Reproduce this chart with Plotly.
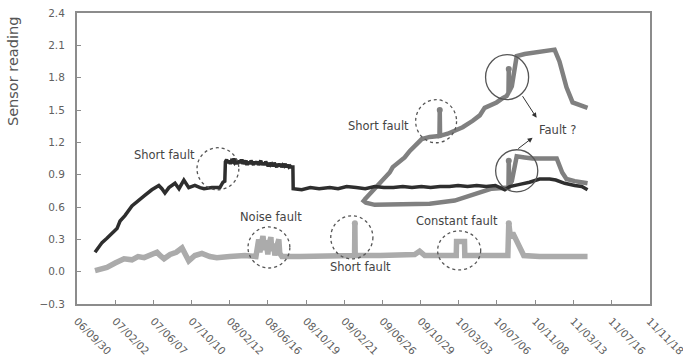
import plotly.graph_objects as go

# ---------------- data ----------------
# dark sensor: ramp, high (noisy) plateau, flat part
dark_ramp_dates = ["2006-11-28","2006-12-08","2006-12-21","2007-01-06","2007-01-23","2007-02-08","2007-02-18",
                   "2007-03-06","2007-03-29","2007-04-18","2007-05-11","2007-06-02","2007-06-25","2007-07-05",
                   "2007-07-15","2007-07-28","2007-08-17","2007-08-30","2007-09-15","2007-10-01","2007-10-21",
                   "2007-11-07","2007-11-20","2007-12-16","2008-01-11","2008-01-21","2008-01-27"]
dark_ramp_vals = [0.18,0.22,0.27,0.31,0.36,0.40,0.47,
                  0.52,0.61,0.66,0.71,0.76,0.80,0.77,
                  0.73,0.78,0.82,0.77,0.85,0.78,0.80,
                  0.78,0.77,0.78,0.78,0.83,0.84]
dark_high_dates = ["2008-01-29","2008-02-02","2008-02-06","2008-02-10","2008-02-14","2008-02-18","2008-02-22",
                   "2008-02-26","2008-03-01","2008-03-05","2008-03-09","2008-03-13","2008-03-17","2008-03-21",
                   "2008-03-25","2008-03-29","2008-04-02","2008-04-06","2008-04-10","2008-04-14","2008-04-18",
                   "2008-04-22","2008-04-26","2008-04-30","2008-05-04","2008-05-08","2008-05-12","2008-05-16",
                   "2008-05-20","2008-05-24","2008-05-28","2008-06-01","2008-06-05","2008-06-09","2008-06-13",
                   "2008-06-17","2008-06-21","2008-06-25","2008-06-29","2008-07-03","2008-07-07","2008-07-11",
                   "2008-07-15","2008-07-19","2008-07-23","2008-07-27","2008-07-31","2008-08-04","2008-08-08",
                   "2008-08-12","2008-08-16","2008-08-20","2008-08-24","2008-08-28","2008-09-01","2008-09-06"]
dark_high_vals = [1.02,1.04,1.01,1.03,1.00,1.03,1.02,
                  1.05,1.01,1.02,1.00,1.03,1.01,1.04,
                  1.00,1.02,1.01,1.03,0.99,1.02,1.00,
                  1.03,1.01,0.99,1.02,1.00,1.02,0.99,
                  1.01,1.03,0.99,1.01,0.99,1.02,1.00,
                  0.98,1.01,0.99,1.00,0.98,1.01,0.99,
                  0.97,1.00,0.98,1.00,0.97,0.99,0.98,
                  1.00,0.97,0.99,0.97,0.98,0.97,0.97]
dark_flat_dates = ["2008-09-07","2008-10-05","2008-11-02","2008-12-01","2009-01-05","2009-02-01","2009-03-01",
                   "2009-04-01","2009-05-01","2009-06-01","2009-07-01","2009-08-01","2009-09-01","2009-10-01",
                   "2009-11-01","2009-12-01","2010-01-01","2010-02-01","2010-03-01","2010-04-01","2010-05-01",
                   "2010-06-01","2010-07-01","2010-08-01","2010-08-17","2010-09-19","2010-10-21","2010-11-23",
                   "2010-12-26","2011-01-15","2011-02-13","2011-03-18","2011-04-10","2011-04-29"]
dark_flat_vals = [0.77,0.76,0.78,0.77,0.78,0.77,0.79,
                  0.78,0.77,0.79,0.78,0.78,0.79,0.78,
                  0.79,0.78,0.79,0.79,0.80,0.79,0.80,
                  0.79,0.80,0.76,0.79,0.81,0.83,0.86,
                  0.86,0.85,0.82,0.80,0.79,0.76]

medA_dates = ["2009-04-29","2009-05-22","2009-06-17","2009-07-07","2009-07-20","2009-07-30","2009-08-22",
              "2009-09-07","2009-09-24","2009-10-13","2009-11-02","2009-11-28","2009-12-30","2009-12-31",
              "2010-01-01","2010-01-26","2010-02-18","2010-03-16","2010-04-18","2010-05-11","2010-05-27",
              "2010-06-12","2010-07-05","2010-07-25","2010-08-07","2010-08-13","2010-08-14","2010-08-15",
              "2010-08-24","2010-09-09","2010-10-05","2010-10-31","2010-12-09","2011-01-11","2011-01-27",
              "2011-02-19","2011-03-11","2011-04-03","2011-04-29"]
medA_vals = [0.67,0.74,0.82,0.87,0.92,0.97,1.03,
             1.06,1.12,1.18,1.23,1.25,1.26,1.50,
             1.26,1.28,1.31,1.34,1.40,1.45,1.52,
             1.54,1.57,1.61,1.63,1.66,1.88,1.67,
             1.72,2.00,2.02,2.03,2.05,2.06,1.95,
             1.71,1.57,1.55,1.52]

medB_dates = ["2009-04-20","2009-05-03","2009-06-01","2009-08-22","2009-11-28","2010-02-18","2010-04-08",
              "2010-05-17","2010-06-19","2010-08-01","2010-08-13","2010-08-14","2010-08-15","2010-08-24",
              "2010-09-09","2010-10-05","2010-10-31","2010-12-09","2011-01-18","2011-02-05","2011-02-19",
              "2011-03-18","2011-04-29"]
medB_vals = [0.67,0.64,0.62,0.62,0.63,0.66,0.70,
             0.74,0.77,0.78,0.78,1.03,0.80,0.84,
             1.07,1.06,1.05,1.05,1.05,0.92,0.86,
             0.84,0.82]

light_dates = ["2006-11-28","2006-12-15","2007-01-06","2007-02-02","2007-03-03","2007-03-29","2007-04-18",
               "2007-05-08","2007-05-28","2007-06-19","2007-06-29","2007-07-12","2007-08-01","2007-08-21",
               "2007-09-09","2007-09-22","2007-10-01","2007-10-21","2007-11-13","2007-12-09","2008-01-01",
               "2008-02-12","2008-04-02","2008-05-08",
               "2008-05-11","2008-05-17","2008-05-21","2008-05-27","2008-05-31","2008-06-06","2008-06-10",
               "2008-06-16","2008-06-19","2008-06-26","2008-06-29","2008-07-05","2008-07-09","2008-07-15",
               "2008-07-22","2008-07-25","2008-08-01",
               "2008-09-29","2009-01-05","2009-03-27","2009-03-28","2009-03-29","2009-06-19","2009-08-22",
               "2009-10-10","2009-10-26","2009-11-12","2009-12-31","2010-02-18","2010-02-23","2010-02-24",
               "2010-03-22","2010-03-23","2010-05-11","2010-07-15","2010-08-11","2010-08-14","2010-08-20",
               "2010-08-27","2010-09-06","2010-09-19","2010-10-02","2010-11-23","2011-01-27","2011-03-18",
               "2011-04-29"]
light_vals = [0.01,0.02,0.04,0.08,0.12,0.11,0.14,
              0.13,0.15,0.18,0.15,0.12,0.16,0.18,
              0.22,0.15,0.10,0.15,0.17,0.14,0.13,
              0.14,0.15,0.14,
              0.22,0.30,0.18,0.27,0.33,0.20,0.29,
              0.16,0.25,0.32,0.19,0.26,0.15,0.23,
              0.30,0.17,0.14,
              0.14,0.15,0.15,0.45,0.15,0.15,0.16,
              0.16,0.19,0.15,0.15,0.16,0.15,0.28,
              0.28,0.15,0.15,0.15,0.15,0.45,0.31,
              0.36,0.30,0.20,0.15,0.14,0.14,0.14,
              0.14]

# fault spike indices (tops marked with dots)
medA_fault_idx = [13, 26]
medB_fault_idx = [11]
light_fault_idx = [44, 60]

tick_dates = ["2006-09-30","2007-02-02","2007-06-07","2007-10-10","2008-02-12","2008-06-16","2008-10-19",
              "2009-02-21","2009-06-26","2009-10-29","2010-03-03","2010-07-06","2010-11-08","2011-03-13",
              "2011-07-16","2011-11-18"]
tick_labels = ["06/09/30","07/02/02","07/06/07","07/10/10","08/02/12","08/06/16","08/10/19",
               "09/02/21","09/06/26","09/10/29","10/03/03","10/07/06","10/11/08","11/03/13",
               "11/07/16","11/11/18"]

# ---------------- figure ----------------
C_DARK = "#2e2e2e"
C_MED = "#808080"
C_LIGHT = "#ababab"

dark_dates = dark_ramp_dates + dark_high_dates + dark_flat_dates
dark_vals = dark_ramp_vals + dark_high_vals + dark_flat_vals

fig = go.Figure()
fig.add_trace(go.Scatter(x=light_dates, y=light_vals, mode="lines",
                         line=dict(color=C_LIGHT, width=5.5), showlegend=False))
fig.add_trace(go.Scatter(x=medB_dates, y=medB_vals, mode="lines",
                         line=dict(color=C_MED, width=4.5), showlegend=False))
fig.add_trace(go.Scatter(x=medA_dates, y=medA_vals, mode="lines",
                         line=dict(color=C_MED, width=4.5), showlegend=False))
fig.add_trace(go.Scatter(x=dark_dates, y=dark_vals, mode="lines",
                         line=dict(color=C_DARK, width=3.5), showlegend=False))

fig.add_trace(go.Scatter(x=[light_dates[i] for i in light_fault_idx],
                         y=[light_vals[i] for i in light_fault_idx], mode="markers",
                         marker=dict(color=C_LIGHT, size=6), showlegend=False))
fig.add_trace(go.Scatter(x=[medA_dates[i] for i in medA_fault_idx] + [medB_dates[i] for i in medB_fault_idx],
                         y=[medA_vals[i] for i in medA_fault_idx] + [medB_vals[i] for i in medB_fault_idx],
                         mode="markers", marker=dict(color=C_MED, size=6), showlegend=False))

# circles around faults
dotted = dict(color="#555555", width=1.3, dash="dot")
solid = dict(color="#555555", width=1.3)
circles = [
    ("2007-10-28", "2008-03-13", 0.76, 1.15, dotted),
    ("2008-04-12", "2008-08-27", 0.034, 0.415, dotted),
    ("2009-01-08", "2009-05-26", 0.118, 0.518, dotted),
    ("2009-12-24", "2010-05-14", 0.016, 0.378, dotted),
    ("2009-10-13", "2010-02-24", 1.196, 1.596, dotted),
    ("2010-05-30", "2010-10-18", 1.596, 2.014, solid),
    ("2010-07-02", "2010-11-17", 0.741, 1.131, solid),
]
for x0, x1, y0, y1, ln in circles:
    fig.add_shape(type="circle", xref="x", yref="y", x0=x0, x1=x1, y0=y0, y1=y1, line=ln)

tfont = dict(family="DejaVu Sans", size=11.5, color="#444444")
labels = [
    ("Short fault", "2007-07-12", 1.085),
    ("Noise fault", "2008-06-26", 0.508),
    ("Short fault", "2009-04-16", 0.044),
    ("Constant fault", "2010-02-24", 0.471),
    ("Short fault", "2009-06-14", 1.354),
    ("Fault ?", "2011-01-21", 1.317),
]
for txt, x, y in labels:
    fig.add_annotation(text=txt, x=x, y=y, xref="x", yref="y", showarrow=False, font=tfont)

arrows = [
    ("2010-11-13", 1.428, "2010-09-25", 1.642),
    ("2010-10-31", 1.243, "2010-09-09", 1.131),
]
for x, y, ax, ay in arrows:
    fig.add_annotation(x=x, y=y, ax=ax, ay=ay, xref="x", yref="y", axref="x", ayref="y",
                       text="", showarrow=True, arrowhead=2, arrowsize=1, arrowwidth=1,
                       arrowcolor="#333333")

fig.add_annotation(text="Sensor reading", xref="paper", yref="paper", x=-0.112, y=0.80,
                   textangle=-90, showarrow=False, xanchor="center", yanchor="middle",
                   font=dict(family="DejaVu Sans", size=14.5, color="#555555"))

axis_font = dict(family="DejaVu Sans", size=10.5, color="#606060")
fig.update_layout(
    width=683, height=358,
    margin=dict(l=77, r=33, t=13, b=54, autoexpand=False),
    plot_bgcolor="white", paper_bgcolor="white",
    xaxis=dict(type="date", range=["2006-09-30", "2011-11-19 12:00"], tickvals=tick_dates,
               ticktext=tick_labels, tickangle=45, showgrid=False, zeroline=False,
               showline=True, linecolor="#8c8c8c", linewidth=2, mirror=True, automargin=False,
               ticks="inside", ticklen=4, tickcolor="#8c8c8c", tickfont=axis_font,
               ticklabelstandoff=5, ticklabeloverflow="allow"),
    yaxis=dict(range=[-0.3, 2.4], dtick=0.3, tick0=0, tickformat=".1f", showgrid=False,
               zeroline=False, showline=True, linecolor="#8c8c8c", linewidth=2, mirror=True,
               automargin=False, ticks="inside", ticklen=4, tickcolor="#8c8c8c",
               tickfont=axis_font, ticklabelstandoff=8),
)

fig.write_html("out.html")
